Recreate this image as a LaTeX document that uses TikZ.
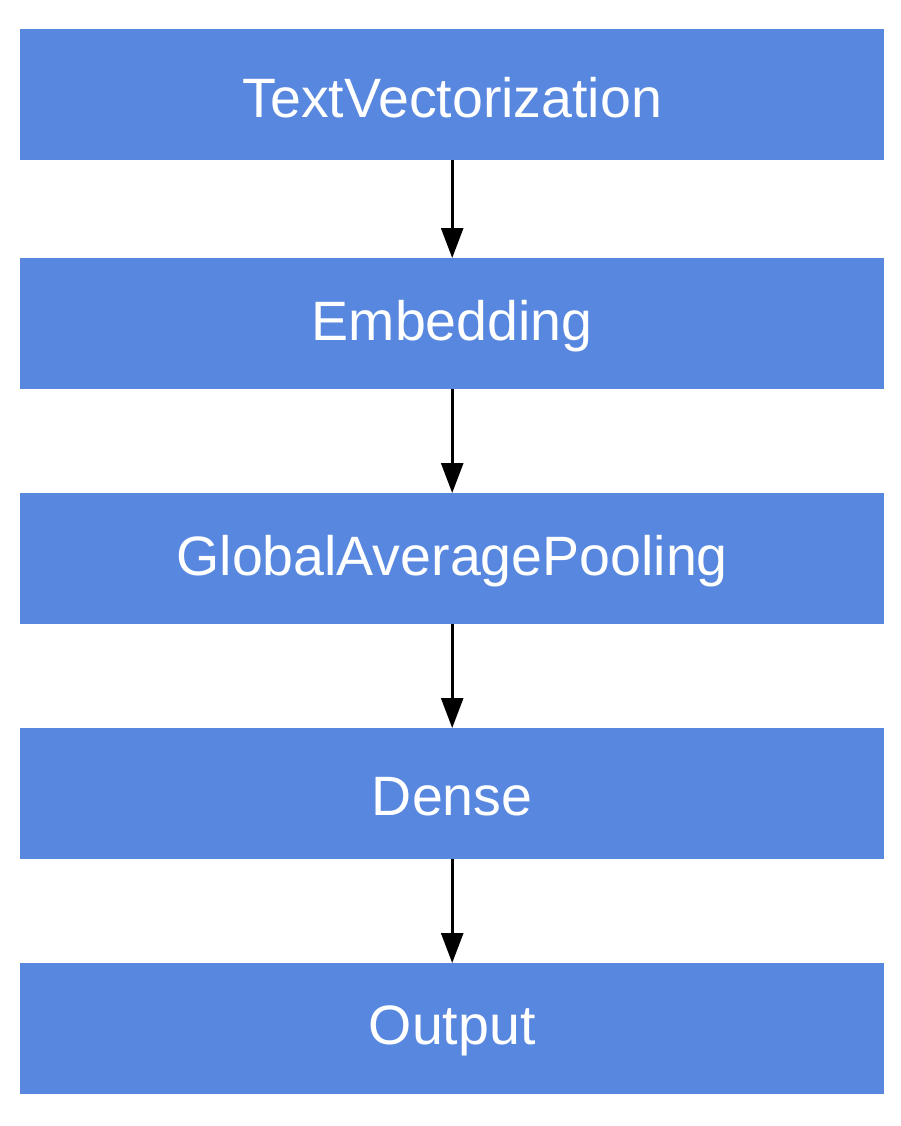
\documentclass[tikz,border=0pt]{standalone}
\usepackage{fontspec}
\setmainfont{Liberation Sans}
\usetikzlibrary{arrows.meta}
\definecolor{boxblue}{HTML}{5887E0}
\begin{document}
\begin{tikzpicture}[x=1pt,y=-1pt,
  layerbox/.style={fill=boxblue, draw=none, minimum width=864pt, minimum height=131pt, inner sep=0pt, anchor=north west},
  layertext/.style={text=white, font=\fontsize{55.5}{62}\selectfont, inner sep=0pt, yshift=-2.5pt},
  flow/.style={line width=2.7pt, -{Triangle[length=30pt,width=22pt]}}]
\useasboundingbox (0,0) rectangle (900,1126);
\node[layerbox, label={[layertext]center:TextVectorization}] (tv) at (20,29) {};
\node[layerbox, label={[layertext]center:Embedding}] (emb) at (20,258) {};
\node[layerbox, label={[layertext]center:GlobalAveragePooling}] (gap) at (20,493) {};
\node[layerbox, label={[layertext]center:Dense}] (dense) at (20,728) {};
\node[layerbox, label={[layertext]center:Output}] (out) at (20,963) {};
\draw[flow] (tv.south) -- (emb.north);
\draw[flow] (emb.south) -- (gap.north);
\draw[flow] (gap.south) -- (dense.north);
\draw[flow] (dense.south) -- (out.north);
\end{tikzpicture}
\end{document}
